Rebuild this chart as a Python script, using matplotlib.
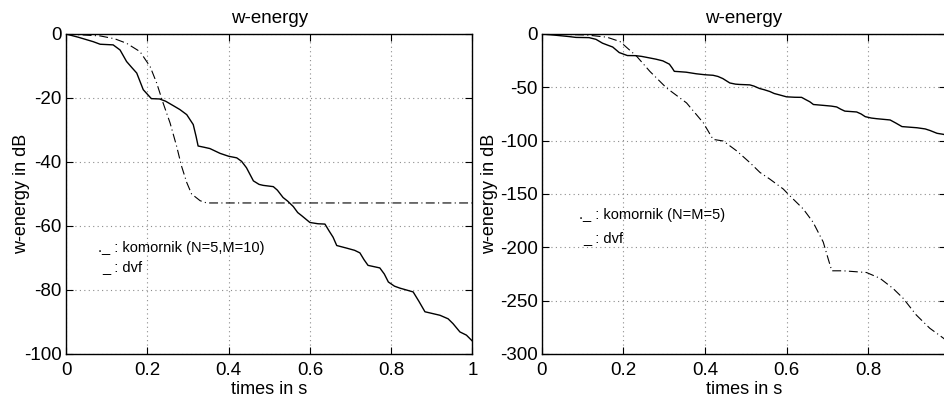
import matplotlib
matplotlib.use("Agg")
import matplotlib.pyplot as plt

# dvf (solid), shared by both panels
dvf_t = [0.0, 0.03, 0.067, 0.084, 0.1, 0.116, 0.133, 0.149, 0.162, 0.174, 0.19, 0.2, 0.21,
         0.23, 0.245, 0.264, 0.28, 0.297, 0.313, 0.32, 0.325, 0.34, 0.354, 0.379, 0.4, 0.42,
         0.432, 0.444, 0.461, 0.475, 0.485, 0.51, 0.52, 0.534, 0.545, 0.559, 0.57, 0.58,
         0.6, 0.62, 0.637, 0.647, 0.657, 0.666, 0.69, 0.71, 0.723, 0.733, 0.743, 0.772,
         0.783, 0.793, 0.808, 0.821, 0.854, 0.868, 0.883, 0.92, 0.94, 0.952, 0.969, 0.985, 1.0]
dvf_db = [0.0, -1.0, -2.4, -3.2, -3.3, -3.4, -5.0, -8.6, -10.5, -12.2, -17.4, -18.8, -20.2,
          -20.3, -21.0, -22.4, -23.6, -25.2, -28.3, -32.0, -35.0, -35.4, -35.8, -37.3, -38.2, -38.7,
          -39.8, -41.8, -45.9, -47.0, -47.3, -47.7, -48.8, -51.1, -52.2, -53.9, -55.8, -56.8,
          -58.9, -59.3, -59.4, -61.5, -63.5, -66.1, -66.9, -67.6, -68.4, -70.5, -72.3, -73.1,
          -75.0, -77.5, -78.8, -79.4, -80.6, -83.5, -86.8, -87.9, -89.0, -90.5, -93.1, -94.1, -96.0]

# komornik (N=5, M=10), left panel
k1_t = [0.0, 0.084, 0.12, 0.149, 0.182, 0.207, 0.223, 0.239, 0.256, 0.272, 0.284, 0.297,
        0.309, 0.33, 0.346, 0.5, 0.75, 1.0]
k1_db = [0.0, -0.6, -1.5, -2.9, -5.5, -10.2, -15.3, -21.6, -27.8, -35.0, -41.2, -46.4,
         -50.0, -52.1, -52.8, -52.8, -52.8, -52.8]

# komornik (N=M=5), right panel
k2_t = [0.0, 0.11, 0.16, 0.192, 0.233, 0.265, 0.306, 0.355, 0.396, 0.42, 0.445, 0.478, 0.51,
        0.535, 0.559, 0.592, 0.608, 0.641, 0.665, 0.69, 0.702, 0.711, 0.739, 0.796, 0.829,
        0.861, 0.886, 0.918, 0.951, 0.984, 1.0]
k2_db = [0.0, -0.9, -3.0, -7.1, -21.0, -35.0, -50.6, -64.6, -83.2, -98.8, -100.3, -109.6, -120.5,
         -129.8, -136.0, -145.3, -151.6, -164.0, -176.4, -195.0, -210.6, -222.0, -222.0, -223.6, -229.0,
         -238.5, -247.8, -263.4, -275.8, -285.0, -290.0]

title = "w-energy"
xlabel = "times in s"
ylabel = "w-energy in dB"
xticks_left = [0, 0.2, 0.4, 0.6, 0.8, 1.0]
xticklabels_left = ["0", "0.2", "0.4", "0.6", "0.8", "1"]
xticks_right = [0, 0.2, 0.4, 0.6, 0.8]
xticklabels_right = ["0", "0.2", "0.4", "0.6", "0.8"]
yticks_left = [0, -20, -40, -60, -80, -100]
yticks_right = [0, -50, -100, -150, -200, -250, -300]
legend_left = ["._ : komornik (N=5,M=10)", "_ : dvf"]
legend_right = ["._ : komornik (N=M=5)", "_ : dvf"]

plt.rcParams['font.family'] = ['Liberation Sans', 'DejaVu Sans']

W, H = 945, 397
fig = plt.figure(figsize=(W / 100, H / 100), dpi=100)

def px_axes(l, r, t, b):
    return [l / W, 1 - b / H, (r - l) / W, (b - t) / H]

ax1 = fig.add_axes(px_axes(66, 472.5, 34, 354))
ax2 = fig.add_axes(px_axes(541.7, 541.7 + 0.99 * 408, 34, 354))

dashdot = (0, (8, 3, 1, 3))

def style(ax, xticks, xticklabels, yticks, xlim, ylim, ylabelpad):
    ax.set_xlim(*xlim)
    ax.set_ylim(*ylim)
    ax.set_xticks(xticks)
    ax.set_xticklabels(xticklabels)
    ax.set_yticks(yticks)
    ax.set_yticklabels([str(v) for v in yticks])
    ax.tick_params(direction='in', top=True, right=True, length=5, width=0.8,
                   labelsize=13.5)
    ax.tick_params(axis='x', pad=6)
    ax.tick_params(axis='y', pad=3)
    ax.grid(True, color='0.55', linestyle=(0, (1, 3)), linewidth=0.8)
    for s in ax.spines.values():
        s.set_linewidth(1.0)
    ax.set_title(title, fontsize=13.5, pad=8)
    ax.set_xlabel(xlabel, fontsize=13, labelpad=1)
    ax.set_ylabel(ylabel, fontsize=13, labelpad=ylabelpad)

ax1.plot(k1_t, k1_db, color='black', linestyle=dashdot, linewidth=0.8)
ax1.plot(dvf_t, dvf_db, color='black', linestyle='-', linewidth=1.0)
style(ax1, xticks_left, xticklabels_left, yticks_left, (0, 1), (-100, 0), -4)
ax1.text(0.079, -66.9, legend_left[0], fontsize=10.5, va='center', ha='left')
ax1.text(0.088, -72.7, legend_left[1], fontsize=10.5, va='center', ha='left')

ax2.plot(k2_t, k2_db, color='black', linestyle=dashdot, linewidth=0.8)
ax2.plot(dvf_t, dvf_db, color='black', linestyle='-', linewidth=1.0)
style(ax2, xticks_right, xticklabels_right, yticks_right, (0, 0.99), (-300, 0), 1)
ax2.spines['right'].set_visible(False)
ax2.text(0.092, -169.7, legend_right[0], fontsize=10.5, va='center', ha='left')
ax2.text(0.102, -191.5, legend_right[1], fontsize=10.5, va='center', ha='left')

fig.savefig("out.png", dpi=100)
